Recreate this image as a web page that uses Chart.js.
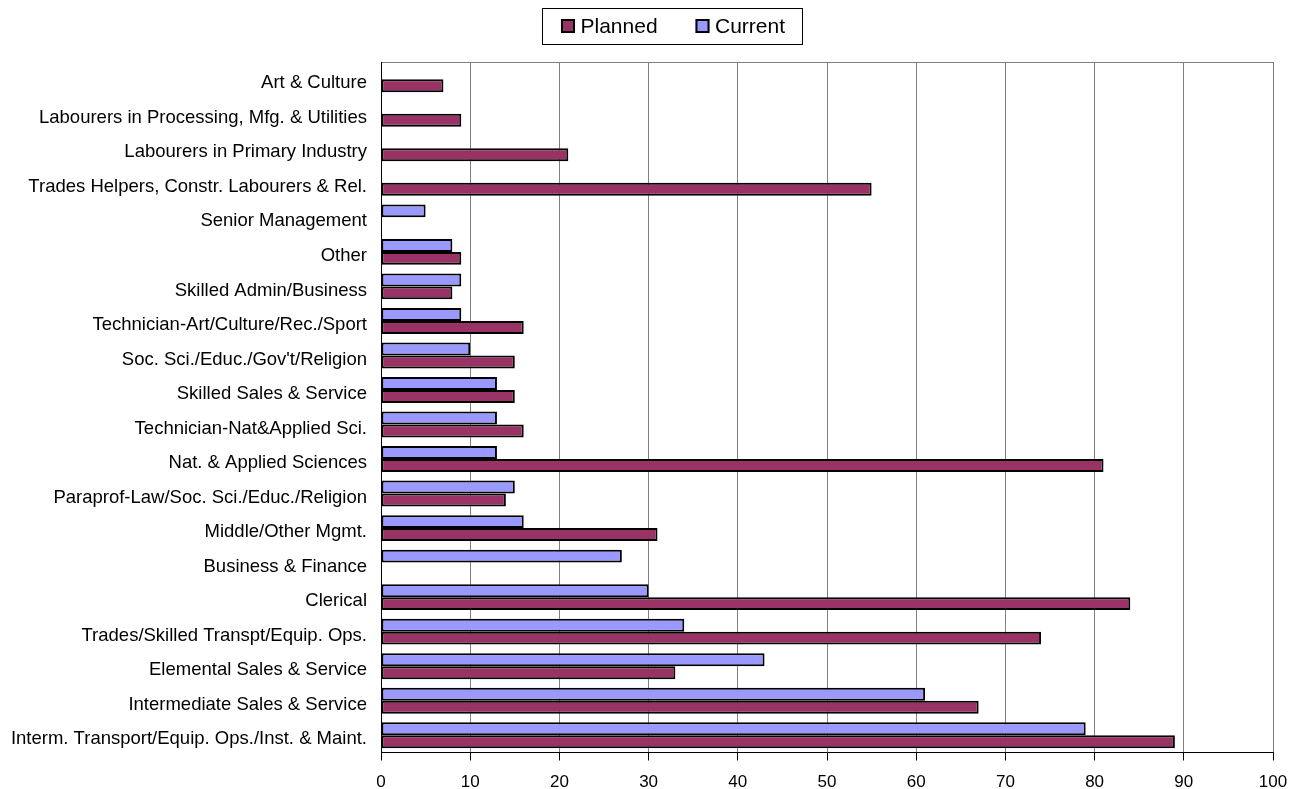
<!DOCTYPE html>
<html>
<head>
<meta charset="utf-8">
<script src="https://cdn.jsdelivr.net/npm/chart.js@4"></script>
<style>
  html, body { margin: 0; padding: 0; background: #fff; }
  #wrap { width: 1291px; height: 789px; }
</style>
</head>
<body>
<div id="wrap"><canvas id="myChart" width="1291" height="789"></canvas></div>
<script>
// top to bottom, as in the picture
const categories = [
  "Art & Culture",
  "Labourers in Processing, Mfg. & Utilities",
  "Labourers in Primary Industry",
  "Trades Helpers, Constr. Labourers & Rel.",
  "Senior Management",
  "Other",
  "Skilled Admin/Business",
  "Technician-Art/Culture/Rec./Sport",
  "Soc. Sci./Educ./Gov't/Religion",
  "Skilled Sales & Service",
  "Technician-Nat&Applied Sci.",
  "Nat. & Applied Sciences",
  "Paraprof-Law/Soc. Sci./Educ./Religion",
  "Middle/Other Mgmt.",
  "Business & Finance",
  "Clerical",
  "Trades/Skilled Transpt/Equip. Ops.",
  "Elemental Sales & Service",
  "Intermediate Sales & Service",
  "Interm. Transport/Equip. Ops./Inst. & Maint."
];
const currentValues = [null, null, null, null, 5, 8, 9, 9, 10, 13, 13, 13, 15, 16, 27, 30, 34, 43, 61, 79];
const plannedValues = [7, 9, 21, 55, null, 9, 8, 16, 15, 15, 16, 81, 14, 31, null, 84, 74, 33, 67, 89];
const xTicks = [0, 10, 20, 30, 40, 50, 60, 70, 80, 90, 100];

const FONT = "'Liberation Sans', Arial, sans-serif";

// legend with a frame around it, drawn from the datasets
const boxedLegend = {
  id: "boxedLegend",
  afterDraw(chart) {
    const ctx = chart.ctx;
    const order = [1, 0]; // Planned first, then Current
    const starts = [561, 695.5];
    ctx.save();
    ctx.fillStyle = "#fff";
    ctx.fillRect(542.5, 8.5, 260, 36);
    ctx.strokeStyle = "#000";
    ctx.lineWidth = 1;
    ctx.strokeRect(542.5, 8.5, 260, 36);
    ctx.font = "21px " + FONT;
    ctx.textBaseline = "middle";
    order.forEach((di, i) => {
      const ds = chart.data.datasets[di];
      const x = starts[i];
      ctx.fillStyle = ds.backgroundColor;
      ctx.fillRect(x, 19, 14, 14);
      ctx.lineWidth = 2;
      ctx.strokeStyle = "#000";
      ctx.strokeRect(x + 1, 20, 12, 12);
      ctx.fillStyle = "#000";
      ctx.fillText(ds.label, x + 19.5, 27);
    });
    ctx.restore();
  }
};

const data = {
  labels: categories,
  datasets: [
    {
      label: "Current",
      data: currentValues,
      backgroundColor: "#9999FF",
      borderColor: "#000000",
      borderWidth: 2,
      borderSkipped: false
    },
    {
      label: "Planned",
      data: plannedValues,
      backgroundColor: "#993366",
      borderColor: "#000000",
      borderWidth: 2,
      borderSkipped: false
    }
  ]
};

const config = {
  type: "bar",
  data: data,
  plugins: [boxedLegend],
  options: {
    indexAxis: "y",
    responsive: false,
    animation: false,
    categoryPercentage: 0.75,
    barPercentage: 1.0,
    layout: { padding: { top: 62, right: 18, left: 0, bottom: 0 } },
    plugins: {
      legend: { display: false },
      tooltip: { enabled: false }
    },
    scales: {
      x: {
        min: 0,
        max: 100,
        afterBuildTicks: (scale) => {
          scale.ticks = xTicks.map((v) => ({ value: v }));
        },
        afterFit: (scale) => {
          scale.height = 36.5;
          scale.paddingRight = 0;
        },
        grid: {
          color: (c) => (c.tick && c.tick.value === 0 ? "#000" : "#808080"),
          lineWidth: 1,
          tickColor: "#000",
          tickLength: 8
        },
        border: { display: true, color: "#000", width: 1 },
        ticks: {
          color: "#000",
          padding: 11.5,
          font: { size: 17, family: FONT }
        }
      },
      y: {
        afterFit: (scale) => { scale.width = 381; },
        grid: {
          color: (c) => (c.index === 0 ? "#808080" : "rgba(0,0,0,0)"),
          drawTicks: false
        },
        border: { display: true, color: "#000", width: 1 },
        ticks: {
          color: "#000",
          padding: 14,
          labelOffset: 4,
          font: { size: 18.5, family: FONT }
        }
      }
    }
  }
};

const myChart = new Chart(document.getElementById("myChart"), config);
</script>
</body>
</html>
